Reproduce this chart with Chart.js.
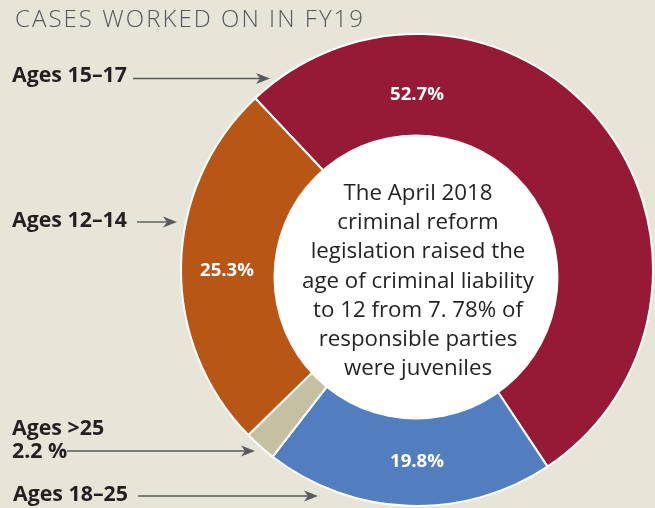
<!DOCTYPE html>
<html><head><meta charset="utf-8">
<script src="https://cdn.jsdelivr.net/npm/chart.js@4.4.0/dist/chart.umd.min.js"></script>
<style>html,body{margin:0;padding:0;background:#e7e5d8;} #wrap{position:relative;width:655px;height:508px;overflow:hidden;}</style>
</head><body><div id="wrap"><canvas id="c" width="655" height="508"></canvas></div>
<script>
// ---- data ----
const categories = ['Ages 15–17', 'Ages 18–25', 'Ages >25', 'Ages 12–14'];
const values = [52.7, 19.8, 2.2, 25.3];
const valueLabels = ['52.7%', '19.8%', '', '25.3%'];
const colors = ['#961a35', '#527ec0', '#c5c0a2', '#b85615'];
const titleText = 'CASES WORKED ON IN FY19';
const centerLines = ['The April 2018', 'criminal reform', 'legislation raised the',
  'age of criminal liability', 'to 12 from 7. 78% of', 'responsible parties', 'were juveniles'];
const sideLabels = [['Ages 15–17'], ['Ages 12–14'], ['Ages >25', '2.2 %'], ['Ages 18–25']];

// ---- layout (positions / styles) ----
const valuePos = [{a: 0, r: 176}, {a: 180, r: 191}, null, {a: 270, r: 190}];
const sidePos = [
  {x: 12, ys: [82], ax1: 133, ax2: 270, ay: 78.5},
  {x: 12, ys: [227], ax1: 137, ax2: 177, ay: 222},
  {x: 12, ys: [435, 458], ax1: 67, ax2: 255, ay: 451},
  {x: 13, ys: [501], ax1: 138, ax2: 318, ay: 496}
];
const FONT = '"Open Sans", "DejaVu Sans", sans-serif';
function fitSize(ctx, text, weight, target) {
  ctx.font = weight + ' 100px ' + FONT;
  return 100 * target / ctx.measureText(text).width;
}
function arrow(ctx, x1, x2, y) {
  ctx.save();
  ctx.strokeStyle = '#58595b'; ctx.fillStyle = '#58595b'; ctx.lineWidth = 1.4;
  ctx.beginPath(); ctx.moveTo(x1, y); ctx.lineTo(x2 - 8, y); ctx.stroke();
  ctx.beginPath(); ctx.moveTo(x2, y); ctx.lineTo(x2 - 14, y - 5.5); ctx.lineTo(x2 - 10, y); ctx.lineTo(x2 - 14, y + 5.5); ctx.closePath(); ctx.fill();
  ctx.restore();
}

const overlay = {
  id: 'overlay',
  afterDatasetsDraw(chart) {
    const ctx = chart.ctx;
    const arc = chart.getDatasetMeta(0).data[0];
    const cx = arc.x, cy = arc.y;
    // white inner disc
    ctx.save();
    ctx.fillStyle = '#ffffff';
    ctx.beginPath(); ctx.arc(cx - 1, cy + 7, 142.5, 0, Math.PI * 2); ctx.fill();
    // centre text
    const cs = fitSize(ctx, centerLines[3], 400, 232);
    ctx.font = '400 ' + cs + 'px ' + FONT;
    ctx.fillStyle = '#262324'; ctx.textAlign = 'center'; ctx.textBaseline = 'alphabetic';
    centerLines.forEach((t, i) => ctx.fillText(t, cx + 1, 200 + i * 29.2));
    // value labels
    const vs = fitSize(ctx, '52.7%', 700, 54);
    ctx.font = '700 ' + vs + 'px ' + FONT;
    ctx.fillStyle = '#ffffff'; ctx.textBaseline = 'middle';
    valueLabels.forEach((t, i) => {
      const p = valuePos[i]; if (!p || !t) return;
      const a = p.a * Math.PI / 180;
      ctx.fillText(t, cx + p.r * Math.sin(a), cy - p.r * Math.cos(a) + 1);
    });
    // title
    ctx.textAlign = 'left'; ctx.textBaseline = 'alphabetic';
    ctx.font = '300 24px ' + FONT;
    const tw = ctx.measureText(titleText).width;
    ctx.letterSpacing = ((348 - tw) / (titleText.length - 1)).toFixed(2) + 'px';
    ctx.fillStyle = '#55575a';
    ctx.fillText(titleText, 15, 27);
    ctx.letterSpacing = '0px';
    // side labels
    const ls = fitSize(ctx, 'Ages 15–17', 700, 115);
    ctx.font = '700 ' + ls + 'px ' + FONT;
    ctx.fillStyle = '#231f20';
    sideLabels.forEach((lines, i) => {
      const p = sidePos[i];
      lines.forEach((t, j) => ctx.fillText(t, p.x, p.ys[j]));
      arrow(ctx, p.ax1, p.ax2, p.ay);
    });
    ctx.restore();
  }
};

new Chart(document.getElementById('c'), {
  type: 'doughnut',
  data: {
    labels: categories,
    datasets: [{
      data: values,
      backgroundColor: colors,
      borderColor: '#ffffff',
      borderWidth: 2
    }]
  },
  options: {
    responsive: false,
    animation: false,
    rotation: -43.3,
    cutout: 128,
    radius: 236,
    layout: {padding: {left: 179, right: 0, top: 32, bottom: 0}},
    plugins: {legend: {display: false}, tooltip: {enabled: false}, title: {display: false}}
  },
  plugins: [overlay]
});
</script>
</body></html>
